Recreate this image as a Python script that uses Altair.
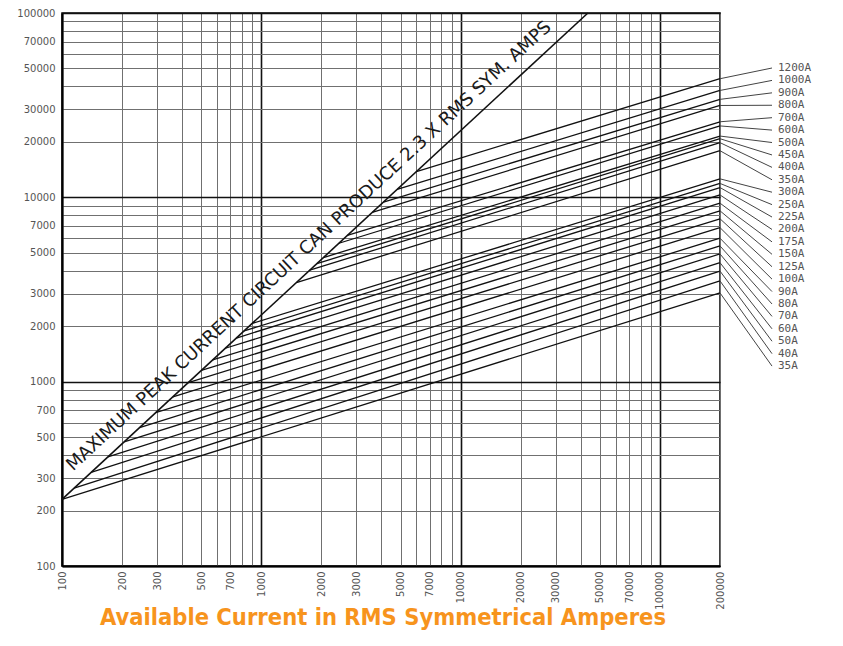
import altair as alt
import pandas as pd
import math

# ---------------- data ----------------
ratings = ["1200A", "1000A", "900A", "800A", "700A", "600A", "500A", "450A", "400A", "350A",
           "300A", "250A", "225A", "200A", "175A", "150A", "125A", "100A",
           "90A", "80A", "70A", "60A", "50A", "40A", "35A"]
# available RMS current where each fuse curve leaves the 2.3x line
start_current = [6000, 4800, 4100, 3600, 2700, 2450, 2050, 1900, 1750, 1500,
                 900, 820, 750, 660, 570, 500, 430, 360,
                 295, 245, 205, 170, 140, 115, 100]
# peak let-through current at 200,000 A available
end_peak = [44000, 38000, 34000, 31500, 25700, 24400, 21500, 20800, 19800, 17900,
            12600, 11900, 11300, 10300, 9300, 8450, 7650, 6850,
            6000, 5450, 4930, 4420, 3980, 3520, 3030]
X_MAX = 200000
PEAK_RATIO = 2.3

x_label_vals = [100, 200, 300, 500, 700, 1000, 2000, 3000, 5000, 7000, 10000,
                20000, 30000, 50000, 70000, 100000, 200000]
y_label_vals = [100, 200, 300, 500, 700, 1000, 2000, 3000, 5000, 7000, 10000,
                20000, 30000, 50000, 70000, 100000]
diag_text = "MAXIMUM PEAK CURRENT CIRCUIT CAN PRODUCE 2.3 X RMS SYM. AMPS"
title_text = "Available Current in RMS Symmetrical Amperes"

# ---------------- layout ----------------
X_DOMAIN = [100, 200000]
Y_DOMAIN = [100, 100000]
PLOT_W, PLOT_H = 658, 553
XDEC = math.log10(X_DOMAIN[1] / X_DOMAIN[0])
YDEC = math.log10(Y_DOMAIN[1] / Y_DOMAIN[0])

grid_x = [m * 10 ** e for e in range(2, 6) for m in range(1, 10) if m * 10 ** e <= X_DOMAIN[1]]
grid_y = [m * 10 ** e for e in range(2, 5) for m in range(1, 10)] + [100000]


def lab_expr(vals):
    return ("indexof([" + ",".join(str(v) for v in vals) +
            "], datum.value) >= 0 ? format(datum.value, 'd') : ''")


major = "indexof([100,1000,10000,100000], datum.value) >= 0"
grid_color = {"condition": {"test": major, "value": "#111111"}, "value": "#707070"}
grid_width = {"condition": {"test": major, "value": 1.6}, "value": 1.0}

x_axis = alt.Axis(values=grid_x, labelExpr=lab_expr(x_label_vals), labelAngle=270,
                  labelFontSize=10, labelColor="#555555", labelFont="DejaVu Sans",
                  tickSize=0, labelPadding=5, labelOverlap=False, labelFlush=False,
                  labelBound=False, grid=True, gridColor=grid_color, gridWidth=grid_width,
                  domainColor="#000000", domainWidth=2, title=None)
y_axis = alt.Axis(values=grid_y, labelExpr=lab_expr(y_label_vals),
                  labelFontSize=10, labelColor="#555555", labelFont="DejaVu Sans",
                  tickSize=0, labelPadding=7, labelOverlap=False, labelFlush=False,
                  labelBound=False, grid=True, gridColor=grid_color, gridWidth=grid_width,
                  domainColor="#000000", domainWidth=2, title=None)
xs = alt.Scale(type="log", domain=X_DOMAIN, nice=False)
ys = alt.Scale(type="log", domain=Y_DOMAIN, nice=False)


def X(f="x"):
    return alt.X(f + ":Q", scale=xs, axis=x_axis)


def Y(f="y"):
    return alt.Y(f + ":Q", scale=ys, axis=y_axis)


# fuse curves
rows = []
for r, s, e in zip(ratings, start_current, end_peak):
    rows.append({"rating": r, "x": s, "y": s * PEAK_RATIO, "pt": 0})
    rows.append({"rating": r, "x": X_MAX, "y": e, "pt": 1})
fuse_df = pd.DataFrame(rows)

diag_df = pd.DataFrame({"x": [X_DOMAIN[0], Y_DOMAIN[1] / PEAK_RATIO],
                        "y": [X_DOMAIN[0] * PEAK_RATIO, Y_DOMAIN[1]], "pt": [0, 1]})

# label positions (layout) on the right
lab_x_px = 716
lead_x_px = 710
lab_x = X_DOMAIN[0] * 10 ** (lab_x_px / PLOT_W * XDEC)
lead_x = X_DOMAIN[0] * 10 ** (lead_x_px / PLOT_W * XDEC)
lab_rows, lead_rows = [], []
for i, (r, e) in enumerate(zip(ratings, end_peak)):
    py = 55 + i * 12.42
    yv = Y_DOMAIN[1] / 10 ** (py / PLOT_H * YDEC)
    lab_rows.append({"rating": r, "x": lab_x, "y": yv})
    lead_rows.append({"rating": r, "x": X_MAX, "y": e, "pt": 0})
    lead_rows.append({"rating": r, "x": lead_x, "y": yv, "pt": 1})
lab_df = pd.DataFrame(lab_rows)
lead_df = pd.DataFrame(lead_rows)

diag_angle = 360 - math.degrees(math.atan((PLOT_H / YDEC) / (PLOT_W / XDEC)))
dtext_df = pd.DataFrame({"x": [2000], "y": [2000 * PEAK_RATIO], "t": [diag_text]})
title_df = pd.DataFrame({"t": [title_text]})

fuse = alt.Chart(fuse_df).mark_line(color="#111111", strokeWidth=1.3).encode(
    x=X(), y=Y(), detail="rating:N", order="pt:Q")
diag = alt.Chart(diag_df).mark_line(color="#111111", strokeWidth=1.6).encode(
    x=X(), y=Y(), order="pt:Q")
leads = alt.Chart(lead_df).mark_line(color="#444444", strokeWidth=1, clip=False).encode(
    x=X(), y=Y(), detail="rating:N", order="pt:Q")
labels = alt.Chart(lab_df).mark_text(align="left", baseline="middle", font="DejaVu Sans Mono",
                                     fontSize=11, color="#555555", clip=False).encode(
    x=X(), y=Y(), text="rating:N")
dtext = alt.Chart(dtext_df).mark_text(align="center", baseline="middle", font="DejaVu Sans",
                                      fontSize=18, color="#1a1a1a", angle=diag_angle, dy=-18).encode(
    x=X(), y=Y(), text="t:N")
title = alt.Chart(title_df).mark_text(align="center", baseline="middle",
                                      font="DejaVu Sans Condensed, Liberation Sans Narrow, Roboto",
                                      fontSize=23.5, fontWeight="bold", color="#F7941D").encode(
    x=alt.value(321), y=alt.value(605), text="t:N")

chart = alt.layer(fuse, diag, leads, labels, dtext, title).properties(
    width=PLOT_W, height=PLOT_H,
    autosize=alt.AutoSizeParams(type="none"),
    padding={"left": 54, "top": 5, "right": 110, "bottom": 67},
).configure_view(stroke="#000000", strokeWidth=1.5)

chart.save("out.html", embed_options={"renderer": "svg", "actions": False})
